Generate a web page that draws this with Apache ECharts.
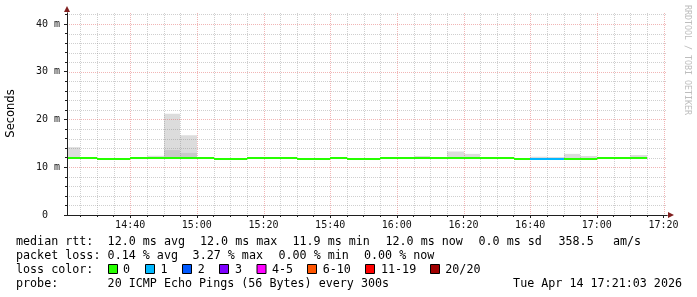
<!DOCTYPE html>
<html>
<head>
<meta charset="utf-8">
<script src="https://cdn.jsdelivr.net/npm/echarts@6/dist/echarts.min.js"></script>
<style>html,body{margin:0;padding:0;background:#fff}#c{width:697px;height:297px}</style>
</head>
<body>
<div id="c"></div>
<script>
// ---------- data ----------
const stepStarts = ['14:20','14:25','14:30','14:35','14:40','14:45','14:50','14:55','15:00','15:05','15:10','15:15','15:20','15:25','15:30','15:35','15:40','15:45','15:50','15:55','16:00','16:05','16:10','16:15','16:20','16:25','16:30','16:35','16:40','16:45','16:50','16:55','17:00','17:05','17:10'];
const medianMs  = [12.0,12.0,11.8,11.8,12.0,12.0,12.0,12.0,12.0,11.8,11.8,12.0,12.0,12.0,11.8,11.8,12.0,11.8,11.8,12.0,12.0,12.0,12.0,12.0,12.0,12.0,12.0,11.8,11.8,11.8,11.8,11.8,12.0,12.0,12.0];
const lostPings = [0,0,0,0,0,0,0,0,0,0,0,0,0,0,0,0,0,0,0,0,0,0,0,0,0,0,0,0,1,1,0,0,0,0,0];
const smokeMaxMs = [14.2,null,null,null,null,12.4,21.2,16.7,null,null,null,null,null,null,null,null,null,null,null,null,null,12.35,null,13.3,12.8,null,null,null,12.2,12.15,12.8,12.35,null,null,12.55];
const smokeMidMs = [null,null,null,null,null,null,13.6,13.0,null,null,null,null,null,null,null,null,null,null,null,null,null,null,null,null,null,null,null,null,null,null,null,null,null,null,null];
const stepMinutes = 5;
const axisStart = '14:21:03';
const axisEnd = '17:21:03';
const xTickLabels = ['14:40','15:00','15:20','15:40','16:00','16:20','16:40','17:00','17:20'];
const yTickValues = [0,10,20,30,40];
const yMax = 42.3;
const lossLabels = ['0','1','2','3','4-5','6-10','11-19','20/20'];
const lossColors = ['#26ff00','#00b8ff','#0059ff','#7e00ff','#ff00ff','#ff5500','#ff0000','#a00000'];
const rttStats = ['12.0 ms avg','12.0 ms max','11.9 ms min','12.0 ms now','0.0 ms sd','358.5','am/s'];
const lossStats = ['0.14 % avg','3.27 % max','0.00 % min','0.00 % now'];
const probeText = '20 ICMP Echo Pings (56 Bytes) every 300s';
const stampText = 'Tue Apr 14 17:21:03 2026';

// ---------- helpers ----------
function toMin(s){const p=s.split(':').map(Number);return p[0]*60+p[1]+(p[2]||0)/60;}
function fmt(v){const h=Math.floor(v/60),m=Math.round(v-h*60);return h+':'+(m<10?'0':'')+m;}
function lossIndex(n){if(n<=3)return n;if(n<=5)return 4;if(n<=10)return 5;if(n<=19)return 6;return 7;}
const xMin = toMin(axisStart), xMax = toMin(axisEnd);
const majorX = xTickLabels.map(toMin);
const minorX = [];
for(let v=Math.ceil(xMin/stepMinutes)*stepMinutes; v<=xMax; v+=stepMinutes) minorX.push(v);
const minorY = [];
for(let v=2; v<yMax; v+=2) minorY.push(v);

const MONO = '"DejaVu Sans Mono"';
const GRID_MINOR = 'rgba(130,130,130,0.38)';
const GRID_MAJOR = 'rgba(222,79,79,0.42)';
const AXIS_COL = '#1f1f1f';
const ARROW_COL = '#801f1f';

const smokeData = stepStarts.map((s,i)=>[toMin(s), toMin(s)+stepMinutes, medianMs[i],
  smokeMidMs[i]==null?medianMs[i]:smokeMidMs[i], smokeMaxMs[i]==null?medianMs[i]:smokeMaxMs[i]]);
const medData = stepStarts.map((s,i)=>[toMin(s), toMin(s)+stepMinutes, medianMs[i], lossIndex(lostPings[i])]);
const vGridData = minorX.filter(v=>majorX.indexOf(v)<0).map(v=>[v,0]).concat(majorX.map(v=>[v,1]));
const hGridData = minorY.filter(v=>yTickValues.indexOf(v)<0).map(v=>[0,v]).concat(yTickValues.filter(v=>v>0).map(v=>[1,v]));

function xr(api,cs,a,b){
  const x0 = Math.max(Math.round(api.coord([a,0])[0]), cs.x);
  const x1 = Math.min(Math.round(api.coord([b,0])[0]), cs.x+cs.width);
  return [x0,x1];
}

const chart = echarts.init(document.getElementById('c'), null, {renderer:'canvas'});

// legend/footer graphics
const g = [];
const rowY = [242, 256, 270, 284];
const font = '11.7px ' + MONO;
function txt(x,y,t,extra){g.push(Object.assign({type:'text',silent:true,style:{x:x,y:y,text:t,font:font,fill:'#000',verticalAlign:'middle'}},extra||{}));}
txt(16,rowY[0],'median rtt:');
[107.6,200,292.5,385.5,478.5,558.5,613].forEach((x,i)=>txt(x,rowY[0],rttStats[i]));
txt(16,rowY[1],'packet loss:');
[107.6,192.6,278.5,364].forEach((x,i)=>txt(x,rowY[1],lossStats[i]));
txt(16,rowY[2],'loss color:');
const boxX=[108.5,145.5,182.5,219.5,257,307.5,365.5,430.5];
const labX=[123,160.4,197.8,235,272,322.7,381,445.3];
lossLabels.forEach((l,i)=>{
  g.push({type:'rect',silent:true,shape:{x:boxX[i],y:rowY[2]-5.5,width:9,height:9},style:{fill:lossColors[i],stroke:'#000',lineWidth:1}});
  txt(labX[i],rowY[2],l);
});
txt(16,rowY[3],'probe:');
txt(107.6,rowY[3],probeText);
txt(682,rowY[3],stampText);
g[g.length-1].style.align='right';
g.push({type:'text',silent:true,x:11.5,y:113.5,rotation:Math.PI/2,style:{x:0,y:0,text:'Seconds',font:'11.5px "DejaVu Sans"',fill:'#000',align:'center',verticalAlign:'middle'}});
g.push({type:'text',silent:true,x:687.5,y:60,rotation:-Math.PI/2,style:{x:0,y:0,text:'RRDTOOL / TOBI OETIKER',font:'8.3px '+MONO,fill:'#bdbdbd',align:'center',verticalAlign:'middle'}});

const option = {
  animation:false,
  backgroundColor:'#ffffff',
  grid:{left:67,right:30,top:13,bottom:82,containLabel:false,outerBoundsMode:'none'},
  xAxis:[
    {type:'value',min:xMin,max:xMax,position:'bottom',z:5,
     axisLine:{show:true,onZero:false,lineStyle:{color:AXIS_COL,width:1}},
     axisTick:{show:true,length:3,customValues:majorX,lineStyle:{color:AXIS_COL}},
     axisLabel:{show:true,customValues:majorX,formatter:v=>fmt(v),margin:5,fontFamily:'DejaVu Sans Mono',fontSize:10,color:'#111'},
     splitLine:{show:false}},
    {type:'value',min:xMin,max:xMax,position:'bottom',z:4,
     axisLine:{show:true,onZero:false,symbol:['none','triangle'],symbolSize:[6,6],symbolOffset:[0,4],lineStyle:{color:ARROW_COL,width:1}},
     axisTick:{show:true,length:2,customValues:minorX,lineStyle:{color:AXIS_COL}},
     axisLabel:{show:false},splitLine:{show:false}}
  ],
  yAxis:[
    {type:'value',min:0,max:yMax,position:'left',z:5,
     axisLine:{show:true,onZero:false,lineStyle:{color:AXIS_COL,width:1}},
     axisTick:{show:true,length:3,customValues:yTickValues,lineStyle:{color:AXIS_COL}},
     axisLabel:{show:true,customValues:yTickValues,formatter:v=>v===0?'0\u00a0\u00a0':v+' m',margin:7,fontFamily:'DejaVu Sans Mono',fontSize:10,color:'#111'},
     splitLine:{show:false}},
    {type:'value',min:0,max:yMax,position:'left',z:4,
     axisLine:{show:true,onZero:false,symbol:['none','triangle'],symbolSize:[6,6],symbolOffset:[0,4],lineStyle:{color:ARROW_COL,width:1}},
     axisTick:{show:true,length:2,customValues:minorY,lineStyle:{color:AXIS_COL}},
     axisLabel:{show:false},splitLine:{show:false}}
  ],
  graphic:g,
  series:[
    {type:'custom',name:'smoke',z:1,silent:true,data:smokeData,encode:{x:[0,1],y:[2,3,4]},
     renderItem:function(params,api){
       const cs=params.coordSys;
       const xs=xr(api,cs,api.value(0),api.value(1));
       const yMed=api.coord([0,api.value(2)])[1];
       const yMid=api.coord([0,api.value(3)])[1];
       const yTop=api.coord([0,api.value(4)])[1];
       const ch=[];
       if(yTop<yMed-0.1) ch.push({type:'rect',shape:{x:xs[0],y:yTop,width:xs[1]-xs[0],height:yMed-yTop},style:{fill:'#dcdcdc'}});
       if(yMid<yMed-0.1) ch.push({type:'rect',shape:{x:xs[0],y:yMid,width:xs[1]-xs[0],height:yMed-yMid},style:{fill:'#c9c9c9'}});
       return {type:'group',children:ch};
     }},
    {type:'custom',name:'vgrid',z:2,silent:true,data:vGridData,encode:{x:0,y:1},
     renderItem:function(params,api){
       const cs=params.coordSys;
       const x=Math.round(api.coord([api.value(0),0])[0])+0.5;
       const maj=api.value(1)===1;
       return {type:'line',shape:{x1:x,y1:cs.y,x2:x,y2:cs.y+cs.height},style:{stroke:maj?GRID_MAJOR:GRID_MINOR,lineWidth:1,lineDash:[1,1]}};
     }},
    {type:'custom',name:'hgrid',z:2,silent:true,data:hGridData,encode:{x:0,y:1},
     renderItem:function(params,api){
       const cs=params.coordSys;
       const y=Math.round(api.coord([xMin,api.value(1)])[1])+0.5;
       const maj=api.value(0)===1;
       return {type:'line',shape:{x1:cs.x,y1:y,x2:cs.x+cs.width,y2:y},style:{stroke:maj?GRID_MAJOR:GRID_MINOR,lineWidth:1,lineDash:[1,1]}};
     }},
    {type:'custom',name:'median',z:3,silent:true,data:medData,encode:{x:[0,1],y:2},
     renderItem:function(params,api){
       const cs=params.coordSys;
       const xs=xr(api,cs,api.value(0),api.value(1));
       const y=Math.round(api.coord([0,api.value(2)])[1]-1);
       return {type:'rect',shape:{x:xs[0],y:y,width:xs[1]-xs[0],height:2},style:{fill:lossColors[api.value(3)]}};
     }}
  ]
};
chart.setOption(option);
</script>
</body>
</html>
